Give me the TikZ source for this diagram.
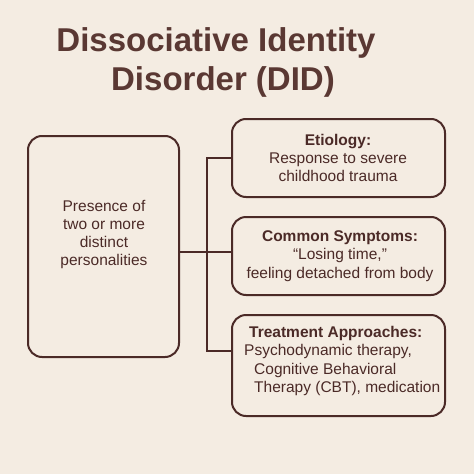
\documentclass[tikz,border=0pt]{standalone}
\usepackage{fontspec}
\setmainfont{Liberation Sans}
\definecolor{bg}{HTML}{F4ECE2}
\definecolor{ink}{HTML}{4B2A27}
\definecolor{titleink}{HTML}{5A3833}
\begin{document}
\begin{tikzpicture}[x=1pt,y=-1pt,
  box/.style={draw=ink,line width=2pt,rounded corners=14pt,inner sep=0pt},
  txt/.style={text=ink,font=\fontsize{15.5}{18.3}\selectfont,align=center,inner sep=0pt},
  link/.style={draw=ink,line width=2pt}]
\fill[bg] (0,0) rectangle (474,474);
\useasboundingbox (0,0) rectangle (474,474);
\node[text=titleink,font=\fontsize{33}{39}\selectfont\bfseries,align=center,inner sep=0pt] (title) at (216,62.5)
  {Dissociative Identity\\\hspace*{14pt}Disorder (DID)};
% boxes
\node[box,minimum width=151pt,minimum height=221pt] (main) at (103.5,246.5) {};
\node[box,minimum width=213pt,minimum height=78pt] (etio) at (338.5,158) {};
\node[box,minimum width=213pt,minimum height=78pt] (symp) at (338.5,256) {};
\node[box,minimum width=213pt,minimum height=101pt] (treat) at (338.5,365.5) {};
% texts
\node[txt] (maintxt) at (104,234.5) {Presence of\\two or more\\distinct\\personalities};
\node[txt] (etiotxt) at (338,158) {\textbf{Etiology:}\\Response to severe\\childhood trauma};
\node[txt] (symptxt) at (340,256) {\textbf{Common Symptoms:}\\“Losing time,”\\feeling detached from body};
\node[txt,align=left,anchor=north west] (treattxt) at (244,326)
  {\hspace*{5pt}\textbf{Treatment Approaches:}\\Psychodynamic therapy,\\\hspace*{10pt}Cognitive Behavioral\\\hspace*{10pt}Therapy (CBT), medication};
% connectors
\coordinate (jt) at (207,158);
\coordinate (jm) at (207,252);
\coordinate (jb) at (207,351);
\draw[link] (main.east |- jm) -- (symp.west |- jm);
\draw[link] (etio.west |- jt) -- (jt) -- (jb) -- (treat.west |- jb);
\end{tikzpicture}
\end{document}
